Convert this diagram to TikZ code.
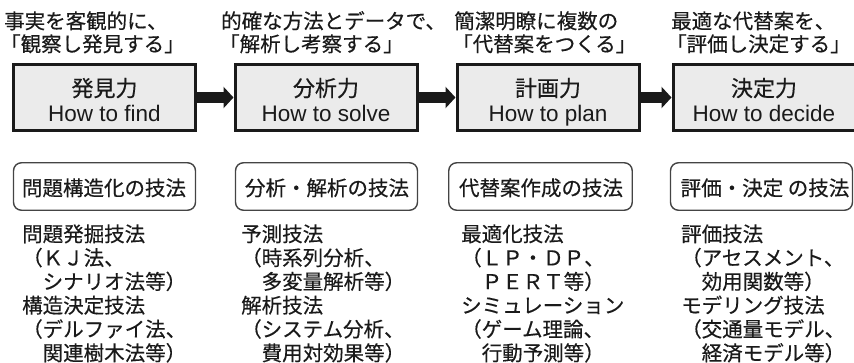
\documentclass[tikz,border=0pt]{standalone}
\usepackage{fontspec}
\setmainfont{Liberation Sans}
\newfontfamily\jp[FakeBold=0.35]{Noto Sans CJK JP}
\usetikzlibrary{arrows.meta}
\definecolor{boxgray}{HTML}{EBEBEB}
\definecolor{ink}{HTML}{1A1A1A}
\definecolor{rline}{HTML}{444444}
\begin{document}
\begin{tikzpicture}[x=1pt,y=-1pt,
  mainbox/.style={draw=ink, line width=3pt, fill=boxgray, minimum width=182pt, minimum height=66pt, inner sep=0},
  roundbox/.style={draw=rline, line width=1.4pt, fill=white, rounded corners=8pt, minimum width=182pt, minimum height=47.5pt, inner sep=0},
  jpt/.style={font=\jp\fontsize{20.5pt}{24pt}\selectfont, text=ink, inner sep=0},
  jpbox/.style={font=\jp\fontsize{22pt}{26pt}\selectfont, text=ink, inner sep=0, anchor=base},
  enbox/.style={font=\fontsize{22.5pt}{26pt}\selectfont, text=ink, inner sep=0, anchor=base},
  arr/.style={draw=ink, line width=10.5pt, -{Triangle[length=10pt,width=21pt]}},
  ]
\useasboundingbox (0,0) rectangle (854,363);

% top descriptions
\node[jpt, anchor=base west] (t1a) at (4,28.6) {事実を客観的に、};
\node[jpt, anchor=base west] (t1b) at (0,51.6) {「観察し発見する」};
\node[jpt, anchor=base west] (t2a) at (221,28.6) {的確な方法とデータで、};
\node[jpt, anchor=base west] (t2b) at (219,51.6) {「解析し考察する」};
\node[jpt, anchor=base west] (t3a) at (454,28.6) {簡潔明瞭に複数の};
\node[jpt, anchor=base west] (t3b) at (452,51.6) {「代替案をつくる」};
\node[jpt, anchor=base west] (t4a) at (671,28.6) {最適な代替案を、};
\node[jpt, anchor=base west] (t4b) at (666,51.6) {「評価し決定する」};

% main boxes
\node[mainbox] (b1) at (104.5,97.5) {};
\node[mainbox] (b2) at (326,97.5) {};
\node[mainbox] (b3) at (548,97.5) {};
\node[mainbox] (b4) at (764,97.5) {};

\node[jpbox] (b1j) at (104.5,96.4) {発見力};
\node[enbox] (b1e) at (104.5,122) {How to find};
\node[jpbox] (b2j) at (326,96.4) {分析力};
\node[enbox] (b2e) at (326,122) {How to solve};
\node[jpbox] (b3j) at (548,96.4) {計画力};
\node[enbox] (b3e) at (548,122) {How to plan};
\node[jpbox] (b4j) at (764,96.4) {決定力};
\node[enbox] (b4e) at (764,122) {How to decide};

\draw[arr] (b1.east) -- (b2.west);
\draw[arr] (b2.east) -- (b3.west);
\draw[arr] (b3.east) -- (b4.west);

% technique boxes
\node[roundbox] (r1) at (104.5,186.5) {};
\node[roundbox] (r2) at (326.5,186.5) {};
\node[roundbox, minimum width=183.5pt] (r3) at (540.5,186.5) {};
\node[roundbox] (r4) at (761.5,186.5) {};
\node[jpt, anchor=base] (r1t) at (104,195.6) {問題構造化の技法};
\node[jpt, anchor=base] (r2t) at (327,195.6) {分析・解析の技法};
\node[jpt, anchor=base] (r3t) at (541,195.6) {代替案作成の技法};
\node[jpt, anchor=base] (r4t) at (765,195.6) {評価・決定 の技法};

% lists
\foreach \t [count=\i] in {問題発掘技法,（ＫＪ法、,　シナリオ法等）,構造決定技法,（デルファイ法、,　関連樹木法等）}
  \node[jpt, anchor=base west] (l1-\i) at (22,241.6+23.8*\i-23.8) {\t};
\foreach \t [count=\i] in {予測技法,（時系列分析、,　多変量解析等）,解析技法,（システム分析、,　費用対効果等）}
  \node[jpt, anchor=base west] (l2-\i) at (241,241.6+23.8*\i-23.8) {\t};
\foreach \t [count=\i] in {最適化技法,（ＬＰ・ＤＰ、,　ＰＥＲＴ等）,シミュレーション,（ゲーム理論、,　行動予測等）}
  \node[jpt, anchor=base west] (l3-\i) at (461,241.6+23.8*\i-23.8) {\t};
\foreach \t [count=\i] in {評価技法,（アセスメント、,　効用関数等）,モデリング技法,（交通量モデル、,　経済モデル等）}
  \node[jpt, anchor=base west] (l4-\i) at (681,241.6+23.8*\i-23.8) {\t};
\end{tikzpicture}
\end{document}
